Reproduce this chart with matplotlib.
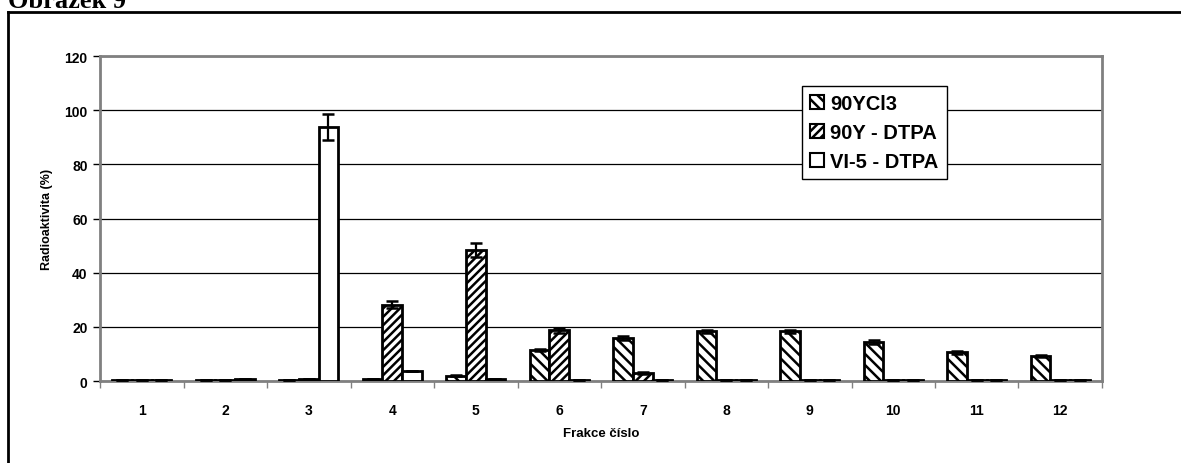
import numpy as np
import matplotlib
matplotlib.use("Agg")
import matplotlib.pyplot as plt
from matplotlib.lines import Line2D

plt.rcParams['font.family'] = ['Liberation Sans', 'DejaVu Sans']
plt.rcParams['hatch.linewidth'] = 1.8

fractions = ['1', '2', '3', '4', '5', '6', '7', '8', '9', '10', '11', '12']
series = ['90YCl3', '90Y - DTPA', 'VI-5 - DTPA']

ycl3 = [0.2, 0.2, 0.4, 0.8, 2.0, 11.5, 15.8, 18.3, 18.3, 14.4, 10.6, 9.3]
ycl3_err = [0, 0, 0, 0, 0.3, 0.5, 0.7, 0.7, 0.7, 0.6, 0.5, 0.3]
dtpa = [0.2, 0.2, 0.6, 28.2, 48.3, 18.7, 3.0, 0.3, 0.2, 0.2, 0.2, 0.2]
dtpa_err = [0, 0, 0, 1.4, 2.5, 0.9, 0.3, 0, 0, 0, 0, 0]
vi5 = [0.2, 0.8, 93.8, 3.7, 0.8, 0.3, 0.2, 0.2, 0.2, 0.2, 0.2, 0.2]
vi5_err = [0, 0, 4.9, 0, 0, 0, 0, 0, 0, 0, 0, 0]

fig = plt.figure(figsize=(11.81, 4.64), dpi=100)
ax = fig.add_axes([0.0847, 0.1767, 0.8484, 0.7004])

x = np.arange(1, len(fractions) + 1)
w = 0.235
hatches = ['\\' * 3, '/' * 4, '']
vals = [ycl3, dtpa, vi5]
errs = [ycl3_err, dtpa_err, vi5_err]
for k in range(3):
    ax.bar(x + (k - 1) * w, vals[k], w, color='white', edgecolor='black',
           linewidth=2, hatch=hatches[k], label=series[k], zorder=3,
           yerr=errs[k], error_kw=dict(ecolor='black', elinewidth=1.6,
                                       capsize=4.5, capthick=1.8, zorder=4))

ax.set_xlim(0.5, 12.5)
ax.set_ylim(0, 120)
ax.set_yticks(np.arange(0, 121, 20))
ax.yaxis.grid(True, color='black', linewidth=0.9, zorder=0)
ax.set_axisbelow(True)

# category boundaries as major ticks, labels on minor ticks at the centres
ax.set_xticks(np.arange(0.5, 12.6, 1))
ax.set_xticklabels([])
ax.set_xticks(x, minor=True)
ax.set_xticklabels(fractions, minor=True)
ax.tick_params(axis='x', which='major', direction='out', length=5, width=1, color='#808080')
ax.tick_params(axis='x', which='minor', length=0, pad=16, labelsize=10)
ax.tick_params(axis='y', direction='out', length=5, width=1, color='black', labelsize=10, pad=4)
for lab in ax.get_xticklabels(minor=True) + ax.get_yticklabels():
    lab.set_fontweight('bold')

for side in ['left', 'bottom', 'right', 'top']:
    ax.spines[side].set_color('#808080')
    ax.spines[side].set_linewidth(2)

ax.set_ylabel('Radioaktivita (%)', fontsize=9, fontweight='bold', labelpad=8)
ax.set_xlabel('Frakce číslo', fontsize=9.5, fontweight='bold', labelpad=7)

leg = ax.legend(loc='upper left', bbox_to_anchor=(0.7006, 0.9077), borderaxespad=0,
                frameon=True, fancybox=False, edgecolor='black', framealpha=1,
                prop={'weight': 'bold', 'size': 14.5}, handlelength=0.7,
                handleheight=0.7, handletextpad=0.3, labelspacing=0.5,
                borderpad=0.4)
leg.get_frame().set_linewidth(1.0)
for h in leg.legend_handles:
    h.set_linewidth(1.5)

# outer frame and heading
fig.add_artist(Line2D([8 / 1181, 1], [1 - 13 / 464, 1 - 13 / 464],
                      transform=fig.transFigure, color='black', linewidth=2))
fig.add_artist(Line2D([8 / 1181, 8 / 1181], [0, 1 - 13 / 464],
                      transform=fig.transFigure, color='black', linewidth=2))
fig.text(8 / 1181, 1 - 8 / 464, 'Obrázek 9', fontsize=19, fontweight='bold',
         family='Liberation Serif', va='baseline', ha='left')

fig.savefig('out.png', dpi=100, facecolor='white')
